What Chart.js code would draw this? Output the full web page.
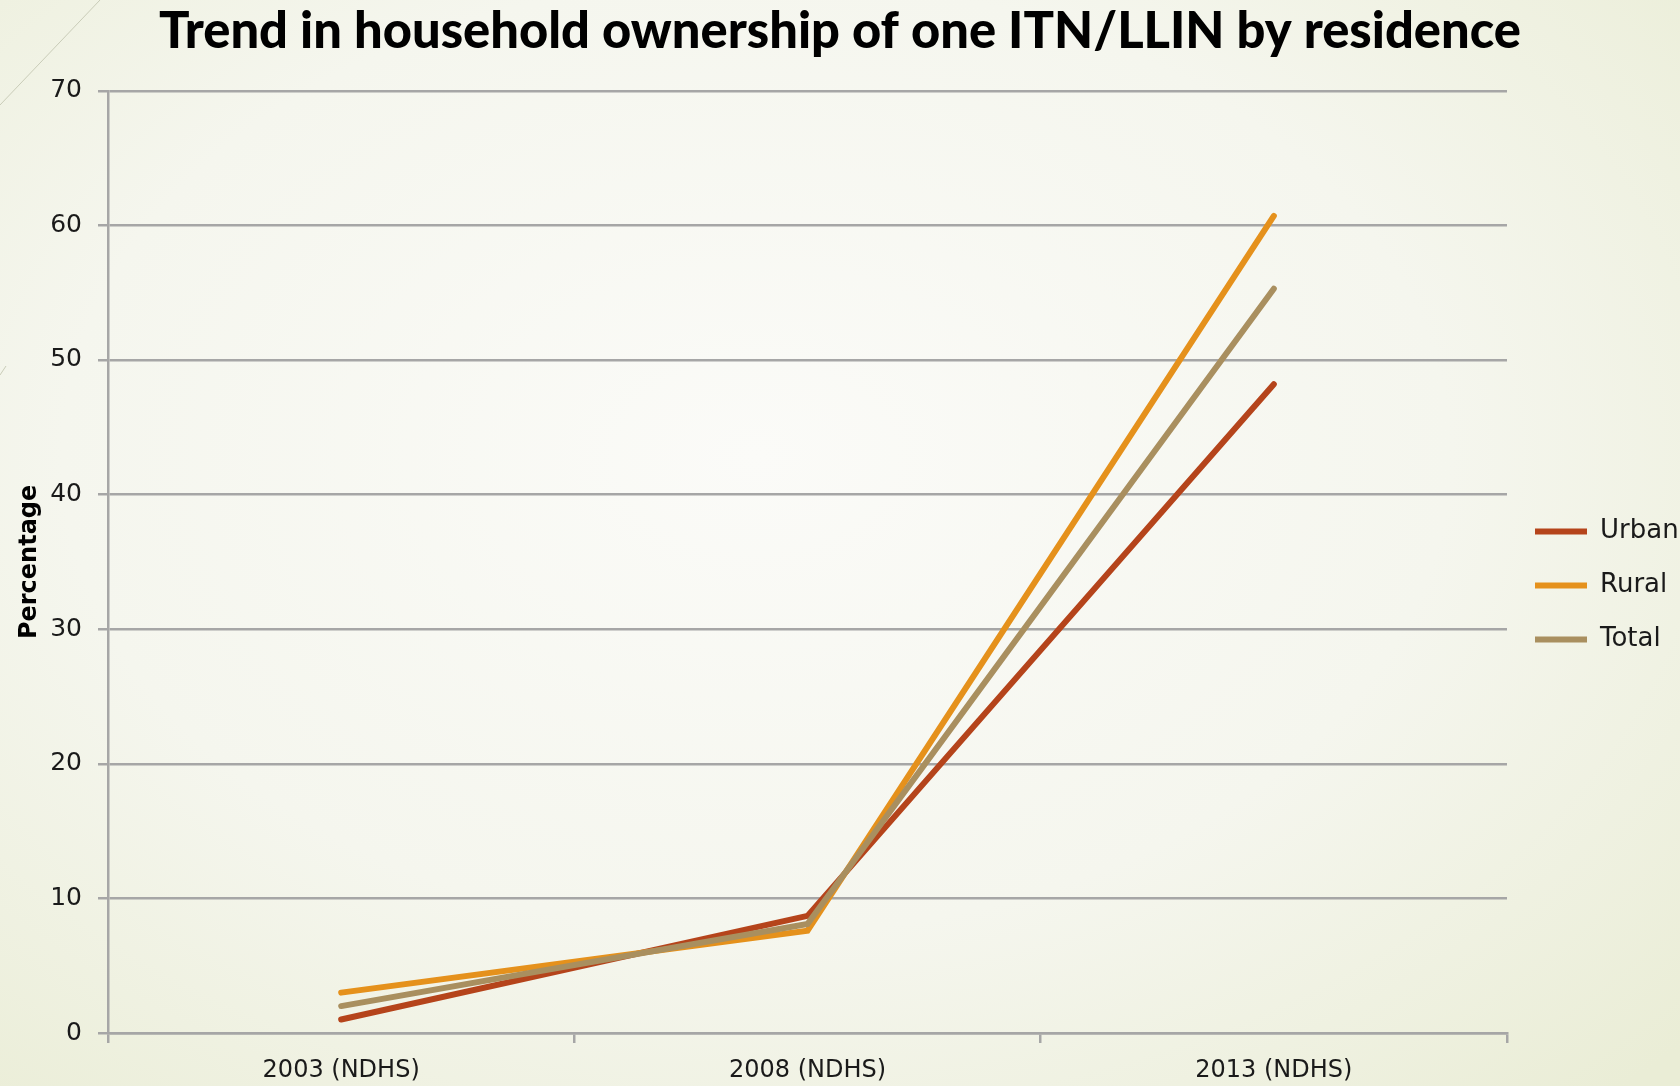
<!DOCTYPE html>
<html>
<head>
<meta charset="utf-8">
<script src="https://cdn.jsdelivr.net/npm/chart.js@4.4.0/dist/chart.umd.min.js"></script>
<style>
  html, body { margin: 0; padding: 0; }
  body {
    width: 1680px; height: 1086px; overflow: hidden;
    background: radial-gradient(ellipse 75% 80% at 45% 42%, #fbfbf8 0%, #f5f6ee 55%, #eaedd6 100%);
  }
  #myChart { display: block; }
</style>
</head>
<body>
<canvas id="myChart" width="1680" height="1086"></canvas>
<script>
// data
var categories = ['2003 (NDHS)', '2008 (NDHS)', '2013 (NDHS)'];
var urban = [1.0, 8.7, 48.2];
var rural = [3.0, 7.6, 60.7];
var total = [2.0, 8.1, 55.3];
var yTicks = [0, 10, 20, 30, 40, 50, 60, 70];

var titleText = 'Trend in household ownership of one ITN/LLIN by residence';
var gridColor = '#a6a6a6';

// size the title font so it spans about the same width as the original
var mctx = document.createElement('canvas').getContext('2d');
mctx.font = '900 48px Lato';
var titleSize = Math.max(40, Math.min(54, 48 * 1362 / mctx.measureText(titleText).width));

// thin slide decoration in the top-left corner
var slideDeco = {
    id: 'slideDeco',
    beforeDraw: function(chart) {
        var c = chart.ctx;
        c.save();
        c.strokeStyle = '#c9ccb8';
        c.lineWidth = 1;
        c.beginPath();
        c.moveTo(0, 105); c.lineTo(100, 0);
        c.moveTo(0, 375); c.lineTo(6, 366);
        c.stroke();
        c.restore();
    }
};

var ctx = document.getElementById('myChart').getContext('2d');
var chart = new Chart(ctx, {
    type: 'line',
    data: {
        labels: categories,
        datasets: [{
            label: 'Urban',
            data: urban,
            borderColor: '#b5441b',
            backgroundColor: '#b5441b',
            borderWidth: 6,
            order: 3
        }, {
            label: 'Rural',
            data: rural,
            borderColor: '#e5911c',
            backgroundColor: '#e5911c',
            borderWidth: 6,
            order: 2
        }, {
            label: 'Total',
            data: total,
            borderColor: '#a98f5f',
            backgroundColor: '#a98f5f',
            borderWidth: 6,
            order: 1
        }]
    },
    plugins: [slideDeco],
    options: {
        responsive: false,
        animation: false,
        layout: { padding: { top: 0, right: 0, bottom: 0, left: 0 } },
        elements: {
            line: { tension: 0, borderCapStyle: 'round', borderJoinStyle: 'miter', fill: false },
            point: { radius: 0, hoverRadius: 0 }
        },
        plugins: {
            title: {
                display: true,
                text: titleText,
                color: '#000',
                font: { family: 'Lato', size: titleSize, weight: 900 },
                padding: { top: 1, bottom: 29 }
            },
            legend: {
                position: 'right',
                maxWidth: 173,
                title: {
                    display: true,
                    text: ' ',
                    font: { size: 10 },
                    padding: { top: 0, bottom: 73 }
                },
                labels: {
                    usePointStyle: true,
                    pointStyle: 'line',
                    pointStyleWidth: 52,
                    padding: 28,
                    color: '#1a1a1a',
                    font: { family: 'DejaVu Sans', size: 26, lineHeight: 1 },
                    sort: function(a, b) { return a.datasetIndex - b.datasetIndex; }
                }
            },
            tooltip: { enabled: false }
        },
        scales: {
            x: {
                offset: true,
                grid: {
                    offset: true,
                    drawOnChartArea: false,
                    drawTicks: true,
                    tickLength: 10,
                    color: gridColor,
                    lineWidth: 2.5
                },
                border: { color: gridColor, width: 2.5 },
                ticks: {
                    padding: 13,
                    color: '#1a1a1a',
                    font: { family: 'DejaVu Sans', size: 24 }
                },
                afterFit: function(scale) { scale.height = 53; }
            },
            y: {
                min: 0,
                max: 70,
                grid: {
                    color: gridColor,
                    lineWidth: 2.5,
                    tickLength: 10
                },
                border: { color: gridColor, width: 2.5 },
                ticks: {
                    stepSize: 10,
                    padding: 16,
                    color: '#1a1a1a',
                    font: { family: 'DejaVu Sans', size: 25 },
                    callback: function(v) { return yTicks.indexOf(v) >= 0 ? String(v) : ''; }
                },
                title: {
                    display: true,
                    text: 'Percentage',
                    color: '#000',
                    font: { family: 'DejaVu Sans', size: 24, weight: 'bold' },
                    padding: { top: 15, bottom: 0 }
                },
                afterFit: function(scale) { scale.width = 108; }
            }
        }
    }
});
</script>
</body>
</html>
